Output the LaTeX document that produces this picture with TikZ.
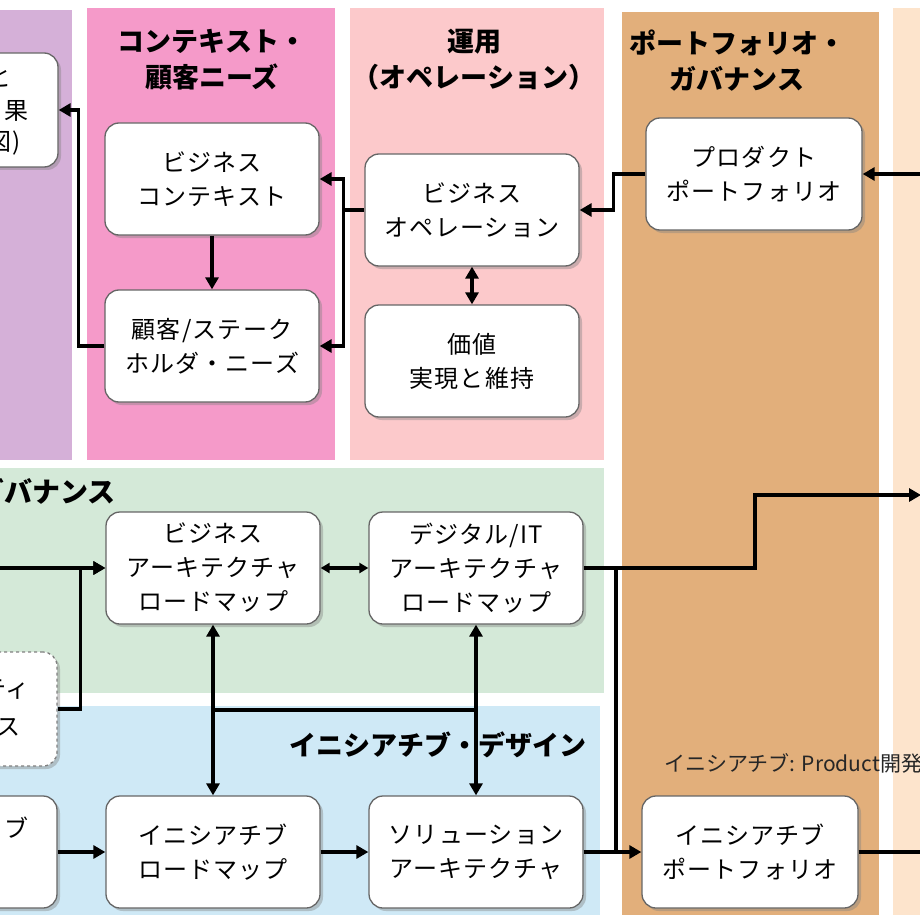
\documentclass[tikz,border=0pt]{standalone}
\usepackage{fontspec}
\newfontfamily\jp{Noto Sans CJK JP}
\newfontfamily\jpn[LetterSpace=5]{Noto Sans CJK JP}
\usetikzlibrary{arrows.meta,shadows}
\definecolor{lpurple}{HTML}{D5B0D8}
\definecolor{hpink}{HTML}{F59AC9}
\definecolor{lpink}{HTML}{FCC9CB}
\definecolor{tan}{HTML}{E2AF7B}
\definecolor{peach}{HTML}{FDE4CC}
\definecolor{lgreen}{HTML}{D4E9D8}
\definecolor{lblue}{HTML}{CFE9F6}
\begin{document}
\begin{tikzpicture}[x=1pt,y=-1pt,
  box/.style={draw=black!60, line width=1.3pt, fill=white, rounded corners=14pt,
    minimum width=214pt, minimum height=112pt, align=center, inner sep=0pt,
    font=\jpn\fontsize{24}{34}\selectfont,
    drop shadow={opacity=0.4, shadow xshift=3pt, shadow yshift=-3pt}},
  dbox/.style={box, dashed, draw=black!50},
  ptext/.style={anchor=east, inner sep=0pt, font=\jpn\fontsize{24}{34}\selectfont},
  title/.style={font=\jp\bfseries\fontsize{27}{36}\selectfont, align=center, inner sep=0pt},
  wire/.style={line width=3.5pt},
  conn/.style={wire, -{Triangle[length=12pt,width=13pt]}},
  dconn/.style={wire, {Triangle[length=12pt,width=13pt]}-{Triangle[length=12pt,width=13pt]}},
]
\useasboundingbox (0,0) rectangle (920,920);
\begin{scope}
\clip (0,0) rectangle (920,920);
\fill[white] (0,0) rectangle (920,920);
% lanes
\fill[lpurple] (-20,10) rectangle (72,460);
\fill[hpink] (87,8) rectangle (335,460);
\fill[lpink] (350,8) rectangle (604,460);
\fill[tan] (622,12) rectangle (879,915);
\fill[peach] (893,8) rectangle (940,915);
\fill[lgreen] (-20,468) rectangle (604,693);
\fill[lblue] (-20,706) rectangle (600,915);

% titles
\node[title] (tctx) at (212,60) {コンテキスト・\\顧客ニーズ};
\node[title] (tops) at (474,60) {運用\\（オペレーション）};
\node[title] (tpf) at (737,61) {ポートフォリオ・\\ガバナンス};
\node[title, anchor=east, font=\jp\bfseries\fontsize{28}{36}\selectfont] (tarch) at (116,492) {アーキテクチャ・ガバナンス};
\node[title] (tinit) at (438,745) {イニシアチブ・デザイン};
\node[anchor=west, inner sep=0pt, font=\jp\fontsize{21}{24}\selectfont, text=black!85] (tprod) at (664,763) {イニシアチブ: Product開発};

% nodes
\node[box, minimum width=218pt, minimum height=114pt] (tl) at (-51,110) {};
\node[ptext] (tl1) at (12,78) {と};
\node[ptext] (tl2) at (29,111) {果};
\node[ptext] (tl3) at (21,143) {図)};
\node[box] (bc) at (212,179) {ビジネス\\コンテキスト};
\node[box] (cn) at (212,346) {顧客/ステーク\\ホルダ・ニーズ};
\node[box] (bo) at (472,210) {ビジネス\\オペレーション};
\node[box] (vr) at (472,361) {価値\\実現と維持};
\node[box, minimum width=216pt] (pp) at (754,174) {プロダクト\\ポートフォリオ};
\node[box] (ba) at (213,568) {ビジネス\\アーキテクチャ\\ロードマップ};
\node[box] (da) at (476,568) {デジタル/IT\\アーキテクチャ\\ロードマップ};
\node[dbox, minimum height=114pt] (sec) at (-50,709) {};
\node[ptext] (sec1) at (30,690) {ティ};
\node[ptext] (sec2) at (21,727) {ス};
\node[box] (il) at (-50,852) {};
\node[ptext] (il1) at (29,828) {ブ};
\node[box] (ir) at (213,852) {イニシアチブ\\ロードマップ};
\node[box] (sa) at (476,852) {ソリューション\\アーキテクチャ};
\node[box, minimum width=216pt] (ip) at (750,852) {イニシアチブ\\ポートフォリオ};

% free ends and junctions
\coordinate (r1) at (930,174);
\coordinate (l1) at (-10,568);
\coordinate (m1) at (213,710);
\coordinate (m2) at (476,710);
\coordinate (j2) at (616,568);
\coordinate (j3) at (616,852);
\coordinate (k1) at (755,568);
\coordinate (r2) at (921,495);
\coordinate (r3) at (930,852);

% connectors
\draw[conn] (cn.west) -- ++(-26,0) |- (tl.east);
\draw[conn] (bc) -- (cn);
\draw[wire] (bo.west) -- ++(-21,0) coordinate (j1);
\draw[conn] (j1) |- (bc.east);
\draw[conn] (j1) |- (cn.east);
\draw[conn] (pp.west) -- ++(-32,0) |- (bo.east);
\draw[conn] (r1) -- (pp.east);
\draw[dconn] (bo) -- (vr);
\draw[conn] (l1) -- (ba.west);
\draw[conn] (sec.east) -- ++(23,0) |- (ba.west);
\draw[wire, {Triangle[length=9pt,width=10pt]}-{Triangle[length=9pt,width=10pt]}] (ba) -- (da);
\draw[dconn] (ba) -- (ir);
\draw[dconn] (da) -- (sa);
\draw[wire] (m1) -- (m2);
\draw[conn] (il) -- (ir);
\draw[conn] (ir) -- (sa);
\draw[conn] (sa) -- (ip);
\draw[wire] (da.east) -- (j2);
\draw[wire] (j2) -- (j3);
\draw[conn] (j2) -- (k1) |- (r2);
\draw[wire] (ip.east) -- (r3);
\end{scope}
\end{tikzpicture}
\end{document}
